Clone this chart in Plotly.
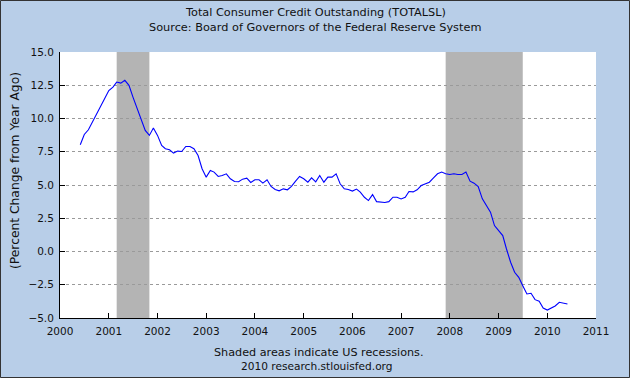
import pandas as pd
import plotly.graph_objects as go

# Monthly data, percent change from year ago
start_month = "2000-06-01"
pct_change = [
    8.03, 8.8, 9.15, 9.78, 10.36, 10.9, 11.5, 12.1, 12.36, 12.74, 12.66, 12.87,
    12.49, 11.61, 10.74, 9.86, 9.1, 8.73, 9.28, 8.73, 7.97, 7.73, 7.65, 7.4,
    7.55, 7.52, 7.9, 7.9, 7.73, 7.22, 6.22,
    5.59, 6.09, 5.97, 5.64, 5.71, 5.84, 5.47, 5.26, 5.24, 5.44, 5.51, 5.19,
    5.39, 5.39, 5.14, 5.39, 4.89, 4.66, 4.56, 4.71, 4.64, 4.89, 5.29, 5.64,
    5.47, 5.21, 5.54, 5.24, 5.71, 5.21, 5.59, 5.59, 5.84, 5.09, 4.71, 4.66,
    4.54, 4.69, 4.46, 4.08, 3.83, 4.28, 3.75, 3.73, 3.68,
    3.75, 4.08, 4.08, 3.95, 4.08, 4.51, 4.48, 4.64, 4.96, 5.09, 5.21, 5.54, 5.84,
    5.97, 5.84, 5.79, 5.84, 5.79, 5.79, 5.97, 5.29, 5.14, 4.89, 3.96, 3.51,
    2.96, 1.95, 1.57, 1.2, 0.19, -0.81, -1.56, -1.94, -2.57, -3.19, -3.14, -3.62,
    -3.74, -4.25, -4.4, -4.25, -4.1, -3.82, -3.87, -3.95,
]
dates = pd.date_range(start_month, periods=len(pct_change), freq="MS")

recession_starts = ["2001-03-01", "2007-12-01"]
recession_ends = ["2001-11-01", "2009-07-01"]

y_tick_vals = [15.0, 12.5, 10.0, 7.5, 5.0, 2.5, 0.0, -2.5, -5.0]
x_range = ["2000-01-01", "2011-01-01"]

title_line1 = "Total Consumer Credit Outstanding (TOTALSL)"
title_line2 = "Source: Board of Governors of the Federal Reserve System"
y_title = "(Percent Change from Year Ago)"
note_line1 = "Shaded areas indicate US recessions."
note_line2 = "2010 research.stlouisfed.org"

W, H = 630, 378
ML, MR, MT, MB = 60, 34, 52, 60
PW, PH = W - ML - MR, H - MT - MB

def px_x(px):
    return (px - ML) / PW

def px_y(py):
    return (H - MB - py) / PH

FONT = "DejaVu Sans"
TXT = "#111111"
fig = go.Figure()
fig.add_trace(go.Scatter(x=dates, y=pct_change, mode="lines",
                         line=dict(color="#0000ff", width=1.1), hoverinfo="skip"))

shapes = []
for s, e in zip(recession_starts, recession_ends):
    shapes.append(dict(type="rect", xref="x", yref="paper", x0=s, x1=e, y0=0, y1=1,
                       fillcolor="#b4b4b4", line=dict(width=0), layer="between"))
# outer border
shapes.append(dict(type="rect", xref="paper", yref="paper",
                   x0=px_x(0.5), x1=px_x(W - 0.5), y0=px_y(H - 0.5), y1=px_y(0.5),
                   line=dict(color="#333333", width=1), fillcolor="rgba(0,0,0,0)", layer="above"))

def note(text, x, y, size, angle=0):
    return dict(text=text, x=px_x(x), y=px_y(y), xref="paper", yref="paper",
                xanchor="center", yanchor="middle", textangle=angle,
                showarrow=False, font=dict(family=FONT, size=size, color=TXT))

annotations = [
    note(title_line1, 315, 12, 11.3),
    note(title_line2, 315, 27, 11.3),
    note(note_line1, 318, 352, 11.2),
    note(note_line2, 317, 366, 10.6),
    note(y_title, 15, 171, 12.3, -90),
]

fig.update_layout(
    width=W, height=H,
    margin=dict(l=ML, r=MR, t=MT, b=MB),
    paper_bgcolor="#b8cee8",
    plot_bgcolor="#ffffff",
    showlegend=False,
    shapes=shapes,
    annotations=annotations,
    font=dict(family=FONT, size=10.5, color=TXT),
    xaxis=dict(type="date", range=x_range, dtick="M12", tick0="2000-01-01",
               tickformat="%Y", showgrid=False, showline=True, linecolor="#000",
               linewidth=1, ticks="inside", ticklen=5, tickcolor="#000",
               ticklabelstandoff=3,
               tickfont=dict(family=FONT, size=10.5, color=TXT), zeroline=False,
               fixedrange=True),
    yaxis=dict(range=[-5, 15], tickvals=y_tick_vals, tickformat=".1f",
               showgrid=True, gridcolor="#9a9a9a", griddash="dot", gridwidth=1,
               showline=True, linecolor="#000", linewidth=1, ticks="inside",
               ticklen=5, tickcolor="#000", zeroline=False, ticklabelstandoff=3,
               tickfont=dict(family=FONT, size=10.5, color=TXT), fixedrange=True),
)

fig.write_html("out.html", config={"displayModeBar": False, "staticPlot": True},
               post_script="document.body.style.margin='0px';document.body.style.overflow='hidden';")
